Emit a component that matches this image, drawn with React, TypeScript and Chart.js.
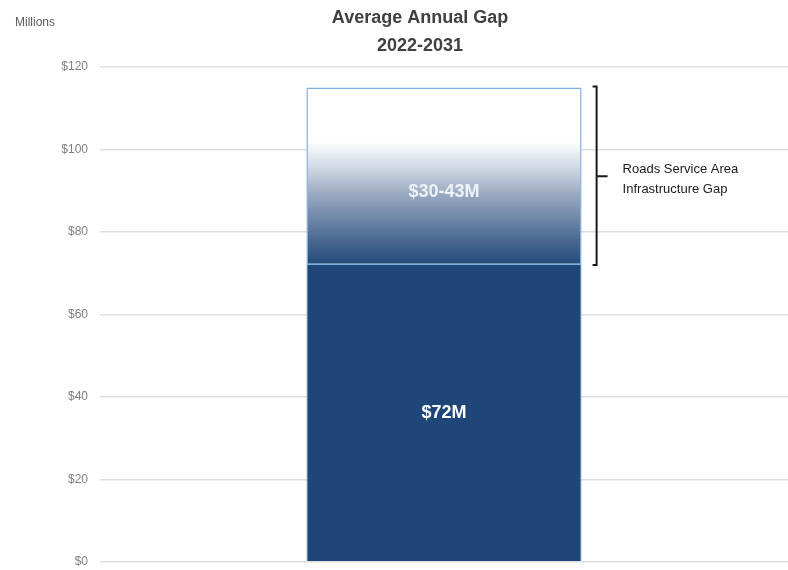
import React, { useEffect, useRef } from "react";
import { Chart, registerables } from "chart.js";

Chart.register(...registerables);

const categories = ["Average Annual Gap 2022-2031"];
const baseValues = [72];
const gapValues = [43];
const baseLabel = "$72M";
const gapLabel = "$30-43M";
const titleLines = ["Average Annual Gap", "2022-2031"];
const unitLabel = "Millions";
const bracketLines = ["Roads Service Area", "Infrastructure Gap"];
const yMin = 0;
const yMax = 120;
const yStep = 20;

const FONT = "'Liberation Sans', Arial, sans-serif";

const overlayPlugin = {
  id: "overlay",
  afterDatasetsDraw(chart: any) {
    const { ctx, scales } = chart;
    const y = scales.y;
    const meta0 = chart.getDatasetMeta(0);
    const meta1 = chart.getDatasetMeta(1);
    ctx.save();
    // title
    ctx.fillStyle = "#404040";
    ctx.font = `bold 18px ${FONT}`;
    ctx.textAlign = "center";
    ctx.textBaseline = "middle";
    ctx.fillText(titleLines[0], 420, 18);
    ctx.fillText(titleLines[1], 420, 46);
    // unit label
    ctx.font = `12px ${FONT}`;
    ctx.fillStyle = "#595959";
    ctx.textAlign = "left";
    ctx.fillText(unitLabel, 15, 23);
    // bar labels
    const b0 = meta0.data[0];
    const b1 = meta1.data[0];
    ctx.fillStyle = "#ffffff";
    ctx.font = `bold 18px ${FONT}`;
    ctx.textAlign = "center";
    ctx.fillText(baseLabel, b0.x, (b0.y + b0.base) / 2);
    ctx.fillStyle = "#eef2f7";
    ctx.fillText(gapLabel, b1.x, y.getPixelForValue(baseValues[0] + gapValues[0] * 0.41));
    // bracket
    const top = y.getPixelForValue(baseValues[0] + gapValues[0]);
    const bot = y.getPixelForValue(baseValues[0]);
    const bx = b1.x + b1.width / 2 + 15;
    ctx.strokeStyle = "#1a1a1a";
    ctx.lineWidth = 2;
    ctx.beginPath();
    ctx.moveTo(bx - 4, top - 1);
    ctx.lineTo(bx, top - 1);
    ctx.lineTo(bx, bot);
    ctx.lineTo(bx - 4, bot);
    ctx.moveTo(bx, (top + bot) / 2);
    ctx.lineTo(bx + 11, (top + bot) / 2);
    ctx.stroke();
    ctx.fillStyle = "#1a1a1a";
    ctx.font = `13px ${FONT}`;
    ctx.textAlign = "left";
    ctx.fillText(bracketLines[0], bx + 26, (top + bot) / 2 - 7);
    ctx.fillText(bracketLines[1], bx + 26, (top + bot) / 2 + 13);
    ctx.restore();
  },
};

export default function App() {
  const ref = useRef<HTMLCanvasElement>(null);
  useEffect(() => {
    document.body.style.margin = "0";
    const canvas = ref.current!;
    const chart = new Chart(canvas, {
      type: "bar",
      data: {
        labels: categories,
        datasets: [
          {
            data: baseValues,
            backgroundColor: "#1f4679",
            borderColor: "#8fa6c4",
            borderWidth: { top: 0, left: 1, right: 1, bottom: 1 } as any,
            barPercentage: 0.4,
            categoryPercentage: 1,
          },
          {
            data: gapValues,
            backgroundColor: (c: any) => {
              const ch = c.chart;
              const ys = ch.scales && ch.scales.y;
              if (!ch.chartArea || !ys) return "#8c9db8";
              const t = ys.getPixelForValue(baseValues[0] + gapValues[0]);
              const b = ys.getPixelForValue(baseValues[0]);
              if (!isFinite(t) || !isFinite(b) || t === b) return "#8c9db8";
              const g = ch.ctx.createLinearGradient(0, t, 0, b);
              g.addColorStop(0, "#ffffff");
              g.addColorStop(0.3, "#ffffff");
              g.addColorStop(0.42, "#dbe1ea");
              g.addColorStop(0.62, "#93a4bd");
              g.addColorStop(0.85, "#4e6b94");
              g.addColorStop(1, "#22497b");
              return g;
            },
            borderColor: "#7fb0e0",
            borderWidth: 1.5,
            borderSkipped: false,
            barPercentage: 0.4,
            categoryPercentage: 1,
          },
        ],
      },
      options: {
        animation: false,
        responsive: false,
        maintainAspectRatio: false,
        layout: { padding: { top: 67, bottom: 9, left: 0, right: 0 } },
        plugins: {
          legend: { display: false },
          tooltip: { enabled: false },
          title: { display: false },
        },
        scales: {
          x: { stacked: true, display: false },
          y: {
            stacked: true,
            min: yMin,
            max: yMax,
            ticks: {
              stepSize: yStep,
              padding: 12,
              color: "#7f7f7f",
              font: { size: 12, family: FONT },
              callback: (v: any) => "$" + v,
            },
            grid: { color: "#dedede", lineWidth: 1.5, drawTicks: false },
            border: { display: false },
            afterFit: (s: any) => {
              s.width = 100;
            },
          },
        },
      },
      plugins: [overlayPlugin],
    });
    return () => chart.destroy();
  }, []);
  return (
    <div style={{ width: 788, height: 570, overflow: "hidden", background: "#fff" }}>
      <canvas ref={ref} width={788} height={581} style={{ display: "block" }} />
    </div>
  );
}
